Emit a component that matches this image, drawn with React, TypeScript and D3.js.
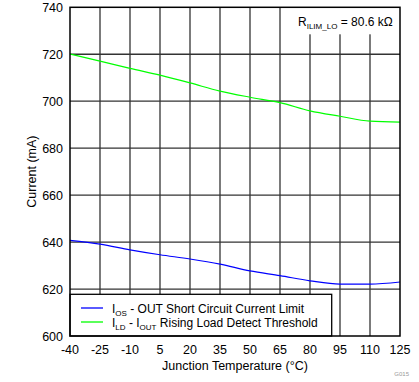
import React from "react";
import * as d3 from "d3";

const temps = [-40, -25, -10, 5, 20, 35, 50, 65, 80, 95, 110, 125];
const ldThreshold = [720.1, 717.1, 714.0, 711.1, 707.8, 704.3, 701.7, 699.4, 695.9, 693.6, 691.5, 691.1];
const osLimit = [640.7, 639.1, 636.7, 634.6, 632.8, 630.6, 627.7, 625.7, 623.5, 622.1, 622.1, 623.0];
const xTicks = [-40, -25, -10, 5, 20, 35, 50, 65, 80, 95, 110, 125];
const yTicks = [600, 620, 640, 660, 680, 700, 720, 740];

const W = 419, H = 382;
const L = 70, R = 400, T = 7.3, B = 336;

export default function App() {
  const x = d3.scaleLinear().domain([-40, 125]).range([L, R]);
  const y = d3.scaleLinear().domain([600, 740]).range([B, T]);
  const line = d3.line<[number, number]>().x(d => x(d[0])).y(d => y(d[1])).curve(d3.curveMonotoneX);
  const green = line(temps.map((t, i) => [t, ldThreshold[i]]) as [number, number][]) || "";
  const blue = line(temps.map((t, i) => [t, osLimit[i]]) as [number, number][]) || "";
  const font = "Liberation Sans, Arial, sans-serif";
  return (
    <svg width={W} height={H} style={{ position: "absolute", left: 0, top: 0, background: "#fff" }}>
      <rect x={0} y={0} width={W} height={H} fill="#fff" />
      {xTicks.slice(1, -1).map(t => (
        <line key={"gx" + t} x1={x(t)} x2={x(t)} y1={T} y2={B} stroke="#333" strokeWidth={1.3} />
      ))}
      {yTicks.slice(1, -1).map(v => (
        <line key={"gy" + v} x1={L} x2={R} y1={y(v)} y2={y(v)} stroke="#333" strokeWidth={1.3} />
      ))}
      <rect x={284} y={T} width={R - 284} height={27} fill="#fff" />
      <path d={green} fill="none" stroke="#00ff00" strokeWidth={1.2} />
      <path d={blue} fill="none" stroke="#0000ff" strokeWidth={1.2} />
      <rect x={L} y={294.3} width={331.7 - L} height={B - 294.3} fill="#fff" stroke="#000" strokeWidth={1.3} />
      <line x1={81} x2={103} y1={308} y2={308} stroke="#0000ff" strokeWidth={1.3} />
      <line x1={81} x2={103} y1={322} y2={322} stroke="#00ff00" strokeWidth={1.3} />
      <text x={112} y={312.5} fontFamily={font} fontSize={12} fill="#000">
        I<tspan fontSize={8} dy={3}>OS</tspan><tspan dy={-3}> - OUT Short Circuit Current Limit</tspan>
      </text>
      <text x={112} y={326.5} fontFamily={font} fontSize={12} fill="#000">
        I<tspan fontSize={8} dy={3}>LD</tspan><tspan dy={-3}> - I</tspan><tspan fontSize={8} dy={3}>OUT</tspan><tspan dy={-3}> Rising Load Detect Threshold</tspan>
      </text>
      <text x={298} y={26} fontFamily={font} fontSize={12} fill="#000">
        R<tspan fontSize={8} dy={3}>ILIM_LO</tspan><tspan dy={-3}> = 80.6 kΩ</tspan>
      </text>
      <rect x={L} y={T} width={R - L} height={B - T} fill="none" stroke="#000" strokeWidth={1.5} />
      {yTicks.map(v => (
        <text key={"yl" + v} x={63} y={y(v) + 4.5} textAnchor="end" fontFamily={font} fontSize={12.5} fill="#000">{v}</text>
      ))}
      {xTicks.map(t => (
        <text key={"xl" + t} x={x(t)} y={354} textAnchor="middle" fontFamily={font} fontSize={12.5} fill="#000">{t}</text>
      ))}
      <text x={235} y={370} textAnchor="middle" fontFamily={font} fontSize={12.5} fill="#000">Junction Temperature (°C)</text>
      <text transform={`translate(36,${(T + B) / 2}) rotate(-90)`} textAnchor="middle" fontFamily={font} fontSize={12.5} fill="#000">Current (mA)</text>
      <text x={409} y={376} textAnchor="end" fontFamily={font} fontSize={6} fill="#999">G015</text>
    </svg>
  );
}
